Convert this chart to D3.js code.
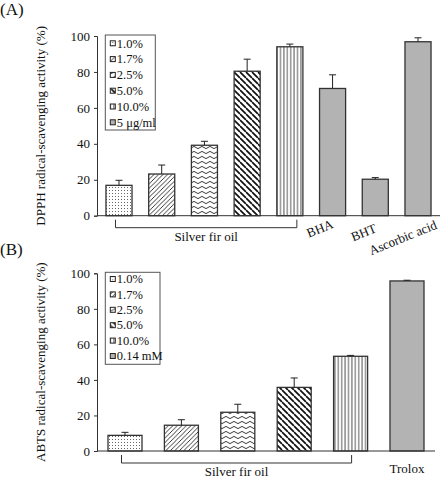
<!DOCTYPE html>
<html><head><meta charset="utf-8">
<script src="https://cdn.jsdelivr.net/npm/d3@7"></script>
<style>body{margin:0;background:#fff}svg{display:block}</style>
</head><body><svg id="c" width="440" height="478"></svg>
<script>
// ---- data ----
const catsA = ["1.0%","1.7%","2.5%","5.0%","10.0%","BHA","BHT","Ascorbic acid"];
const valsA = [16.9, 23.2, 39.2, 80.4, 94.0, 70.8, 20.3, 96.8];
const errsA = [2.8, 5.0, 2.2, 6.7, 1.5, 7.6, 0.9, 2.2];
const legendA = ["1.0%","1.7%","2.5%","5.0%","10.0%","5 μg/ml"];
const catsB = ["1.0%","1.7%","2.5%","5.0%","10.0%","Trolox"];
const valsB = [8.8, 14.5, 21.8, 35.8, 53.3, 95.7];
const errsB = [1.7, 3.1, 4.5, 5.3, 0.5, 0.4];
const legendB = ["1.0%","1.7%","2.5%","5.0%","10.0%","0.14 mM"];
const yTicks = [0, 20, 40, 60, 80, 100];
const groupLabel = "Silver fir oil";
const patternKeys = ["dots","fwd","wave","back","vert","gray"];

const FONT = "'Liberation Serif', 'Times New Roman', serif";
const svg = d3.select("#c");
const defs = svg.append("defs");
function pat(id, w, h, build){
  const p = defs.append("pattern").attr("id", id).attr("patternUnits","userSpaceOnUse").attr("width", w).attr("height", h);
  p.append("rect").attr("width", w).attr("height", h).attr("fill", "#fff");
  build(p);
}
pat("dots", 3, 3, p => { p.append("rect").attr("x",1).attr("y",1).attr("width",1).attr("height",1).attr("fill","#666"); });
pat("fwd", 4.5, 4.5, p => { p.append("path").attr("d","M-1,1 l2,-2 M0,4.5 l4.5,-4.5 M3.5,5.5 l2,-2").attr("stroke","#222").attr("stroke-width",0.9); });
pat("wave", 8, 5, p => { p.append("path").attr("d","M0,2.5 Q2,0.3 4,2.5 T8,2.5").attr("fill","none").attr("stroke","#222").attr("stroke-width",0.9); });
pat("back", 6, 6, p => { p.append("path").attr("d","M0,0 l6,6 M-3,3 l3,3 M3,-3 l3,3").attr("stroke","#111").attr("stroke-width",1.7); });
pat("vert", 3.4, 4, p => { p.append("line").attr("x1",1.7).attr("x2",1.7).attr("y1",0).attr("y2",4).attr("stroke","#444").attr("stroke-width",0.9); });
const fills = {dots:"url(#dots)", fwd:"url(#fwd)", wave:"url(#wave)", back:"url(#back)", vert:"url(#vert)", gray:"#b3b3b3"};

function txt(sel, size){ return sel.style("font-family", FONT).style("font-size", size+"px").attr("fill","#111"); }

function panel(o){
  const g = svg.append("g");
  const x = d3.scaleBand().domain(o.cats).range([o.x0, o.x1]).paddingInner(o.pi).paddingOuter(o.po);
  const y = d3.scaleLinear().domain([0,100]).range([o.yb, o.yt]);
  const fillOf = (d,i) => fills[i < 5 ? patternKeys[i] : "gray"];
  g.selectAll("rect.bar").data(o.vals).join("rect").attr("class","bar")
    .attr("x",(d,i)=>x(o.cats[i])).attr("width",x.bandwidth())
    .attr("y",d=>y(d)).attr("height",d=>y(0)-y(d))
    .attr("fill",fillOf).attr("stroke","#333").attr("stroke-width",1.3);
  const cx = i => x(o.cats[i]) + x.bandwidth()/2;
  const eb = g.selectAll("g.eb").data(o.vals).join("g");
  eb.append("line").attr("x1",(d,i)=>cx(i)).attr("x2",(d,i)=>cx(i))
    .attr("y1",d=>y(d)).attr("y2",(d,i)=>y(d+o.errs[i])).attr("stroke","#222").attr("stroke-width",1);
  eb.append("line").attr("x1",(d,i)=>cx(i)-3.5).attr("x2",(d,i)=>cx(i)+3.5)
    .attr("y1",(d,i)=>y(d+o.errs[i])).attr("y2",(d,i)=>y(d+o.errs[i])).attr("stroke","#222").attr("stroke-width",1);
  const ya = d3.axisLeft(y).tickValues(yTicks).tickSize(3).tickPadding(4);
  const yg = g.append("g").attr("transform",`translate(${o.x0},0)`).call(ya);
  yg.select(".domain").attr("stroke","#333").attr("stroke-width",1);
  yg.selectAll(".tick line").attr("stroke","#333");
  txt(yg.selectAll("text"), 13);
  g.append("line").attr("x1",o.x0).attr("x2",o.axEnd).attr("y1",y(0)).attr("y2",y(0)).attr("stroke","#333").attr("stroke-width",1);
  txt(g.append("text").attr("transform",`translate(${o.titleX},${(o.yb+o.yt)/2})`+" rotate(-90)")
    .attr("text-anchor","middle"), 13).text(o.title);
  txt(g.append("text").attr("x",0).attr("y",o.labelY), 17).text(o.label);
  const bx0 = cx(0) - o.brIn, bx1 = cx(4) + o.brOut;
  g.append("path").attr("d",`M${bx0},${y(0)+4}V${y(0)+o.brDrop}H${bx1}V${y(0)+4}`).attr("fill","none").attr("stroke","#333").attr("stroke-width",1);
  txt(g.append("text").attr("x",(bx0+bx1)/2).attr("y",y(0)+o.brTextDy).attr("text-anchor","middle"), 13).text(groupLabel);
  o.refLabels.forEach((r,k) => {
    txt(g.append("text").attr("transform",`translate(${cx(5+k) + r.dx},${y(0)+r.dy}) rotate(${r.rot})`)
      .attr("text-anchor","middle"), 13).text(o.cats[5+k]);
  });
  const lg = g.append("g").attr("transform",`translate(${o.lx},${o.ly})`);
  lg.append("rect").attr("width",o.lw).attr("height",o.lh).attr("fill","#fff").attr("stroke","#555").attr("stroke-width",1);
  o.legend.forEach((t,i) => {
    const yy = o.l0 + i*o.lstep;
    lg.append("rect").attr("x",5).attr("y",yy-2.5).attr("width",5).attr("height",5)
      .attr("fill", fills[patternKeys[i]]).attr("stroke","#222").attr("stroke-width",1);
    txt(lg.append("text").attr("x",11.5).attr("y",yy+4.3), 12.5).text(t);
  });
}

panel({cats:catsA, vals:valsA, errs:errsA, legend:legendA, x0:97, x1:440, axEnd:440, pi:0.39, po:0.21,
  yb:215.7, yt:36, title:"DPPH radical-scavenging activity (%)", titleX:45, label:"(A)", labelY:15,
  brIn:3.5, brOut:7, brDrop:12, brTextDy:25,
  refLabels:[{dx:-11,dy:17,rot:-22},{dx:-10,dy:21,rot:-22},{dx:-13.5,dy:26,rot:-22}],
  lx:105.3, ly:35, lw:50, lh:95, l0:8.3, lstep:15.8});
panel({cats:catsB, vals:valsB, errs:errsB, legend:legendB, x0:97, x1:435, axEnd:435, pi:0.397, po:0.195,
  yb:451, yt:273.3, title:"ABTS radical-scavenging activity (%)", titleX:45, label:"(B)", labelY:255,
  brIn:3.5, brOut:1, brDrop:12, brTextDy:25,
  refLabels:[{dx:0,dy:22,rot:0}],
  lx:105.3, ly:272.3, lw:54.7, lh:92, l0:6.7, lstep:15.4});
</script></body></html>
